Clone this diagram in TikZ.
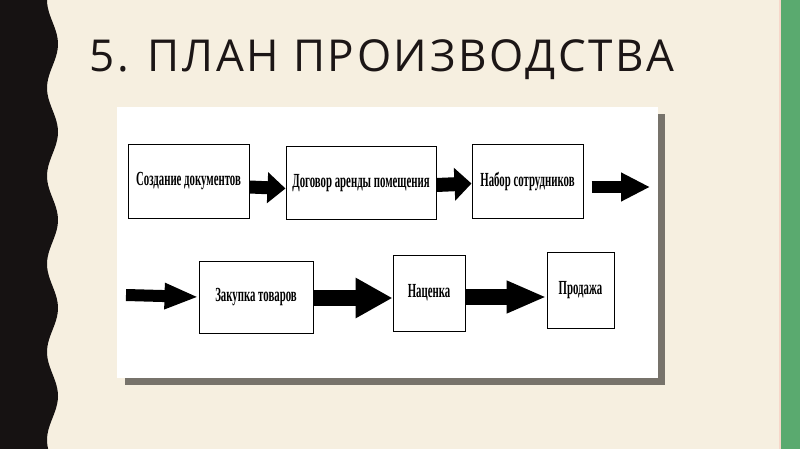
\documentclass[tikz,border=0pt]{standalone}
\usepackage{fontspec}
\newfontfamily\titlefont[LetterSpace=6]{Open Sans}
\newfontfamily\boxfont[FakeStretch=0.54]{Liberation Serif}
\usetikzlibrary{arrows.meta}
\definecolor{paper}{RGB}{246,239,224}
\definecolor{strip}{RGB}{22,18,18}
\definecolor{panelshade}{RGB}{119,115,107}
\definecolor{edge}{RGB}{90,170,111}
\definecolor{ink}{RGB}{28,22,22}
\tikzset{
	stepbox/.style={draw, line width=1pt, fill=white, inner sep=0pt, align=center, font=\boxfont\bfseries\fontsize{20}{21}\selectfont},
	blk/.style={line width=#1, -{Triangle[length=18pt,width=30pt]}},
	blk/.default=13pt
}
\begin{document}
\begin{tikzpicture}[x=1pt,y=-1pt]
			\useasboundingbox (0,0) rectangle (800,449);
			\fill[paper] (0,0) rectangle (800,449);
			\fill[strip] (0,0) -- plot[domain=0:449,samples=120] ({52.5-5.5*cos(4.0909*\x)},\x) -- (0,449) -- cycle;
			\fill[edge] (781,0) rectangle (800,449);
			\fill[red!10!paper] (779,0) rectangle (781,449);
			\node[anchor=base west, text=ink, font=\titlefont\fontsize{44}{48}\selectfont] (title) at (86,72) {5. ПЛАН ПРОИЗВОДСТВА};
			
			\fill[panelshade] (125,114) rectangle (665,385);
			\fill[white] (117,107) rectangle (658,378);
			
			\node[stepbox, minimum width=121, minimum height=73] (Sd) at (188.5,181.5) {Создание документов};
			\node[stepbox, minimum width=150, minimum height=72] (Dg) at (361,183) {Договор аренды помещения};
			\node[stepbox, minimum width=111, minimum height=73] (Nb) at (527.5,181.5) {Набор сотрудников};
			\coordinate (out) at (650,187);
			
			\coordinate (in) at (126,295);
			\node[stepbox, minimum width=114, minimum height=72] (Zt) at (256,297) {Закупка товаров};
			\node[stepbox, minimum width=72, minimum height=76] (Nc) at (429,293) {Наценка};
			\node[stepbox, minimum width=67, minimum height=76] (Pr) at (580.5,290) {Продажа};
			
			\draw[blk] ([yshift=-5.5]Sd.east) -- ([yshift=-5.5]Dg.west);
			\draw[blk=14pt, -{Triangle[length=17pt,width=32pt]}] ([yshift=-2]Dg.east) -- ([yshift=-2]Nb.west);
			\draw[blk=12pt, -{Triangle[length=29pt,width=27pt]}] ([shift={(8pt,-5.5pt)}]Nb.east) -- (out);
			
			\draw[blk=12pt, -{Triangle[length=34pt,width=24pt]}] (in) -- (Zt.west);
			\draw[blk=16pt, -{Triangle[length=37pt,width=38pt]}] ([yshift=-1]Zt.east) -- ([yshift=-5]Nc.west);
			\draw[blk=16pt, -{Triangle[length=40pt,width=30pt]}] ([yshift=-4]Nc.east) -- ([yshift=-7]Pr.west);
			\end{tikzpicture}
\end{document}
